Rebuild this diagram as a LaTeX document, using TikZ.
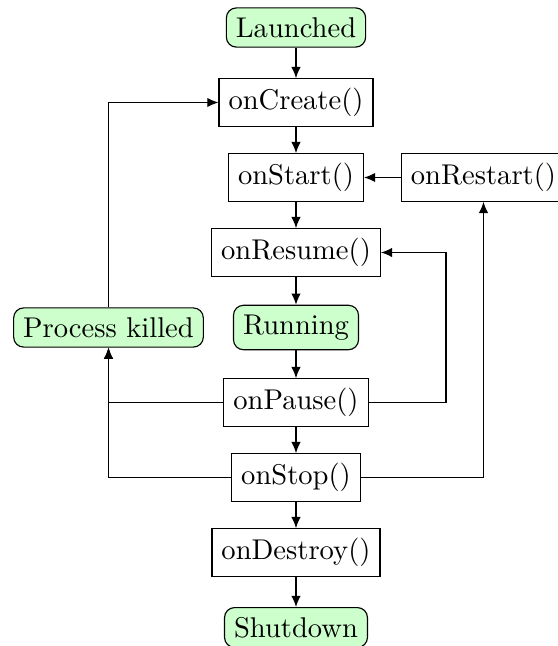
\documentclass[tikz,border=0pt]{standalone}
\usetikzlibrary{arrows.meta}
\begin{document}
\begin{tikzpicture}[x=0.35pt, y=-0.35pt,
  callbox/.style={draw, rectangle, fill=white},
  statebox/.style={draw, rectangle, rounded corners=3.5pt, fill=green!20},
  flow/.style={-{Latex[length=3.9pt,width=3.3pt]}}]
\useasboundingbox (0,0) rectangle (558,646);

% main column of lifecycle states and callbacks
\node[statebox] (launched) at (296,27.5)  {Launched};
\node[callbox]  (create)   at (296,102.5) {onCreate()};
\node[callbox]  (start)    at (296,177.5) {onStart()};
\node[callbox]  (resume)   at (296,252.5) {onResume()};
\node[statebox] (running)  at (296,327.5) {Running};
\node[callbox]  (pause)    at (296,402.5) {onPause()};
\node[callbox]  (stop)     at (296,477.5) {onStop()};
\node[callbox]  (destroy)  at (296,552.5) {onDestroy()};
\node[statebox] (shutdown) at (296,627.5) {Shutdown};

% side nodes
\node[callbox]  (restart)  at (483.5,177.5) {onRestart()};
\node[statebox] (killed)   at (108.5,327.5) {Process killed};

% routing column for the return to onResume()
\coordinate (backbus) at (446,0);

% straight-down flow
\draw[flow] (launched) -- (create);
\draw[flow] (create) -- (start);
\draw[flow] (start) -- (resume);
\draw[flow] (resume) -- (running);
\draw[flow] (running) -- (pause);
\draw[flow] (pause) -- (stop);
\draw[flow] (stop) -- (destroy);
\draw[flow] (destroy) -- (shutdown);

% restart path
\draw[flow] (restart) -- (start);
\draw[flow] (stop.east) -| (restart.south);

% resume path
\draw[flow] (pause.east) -- (pause.east -| backbus) |- (resume.east);

% process killed paths
\draw[flow] (pause.west) -| (killed.south);
\draw[flow] (stop.west) -| (killed.south);
\draw[flow] (killed.north) |- (create.west);
\end{tikzpicture}
\end{document}
